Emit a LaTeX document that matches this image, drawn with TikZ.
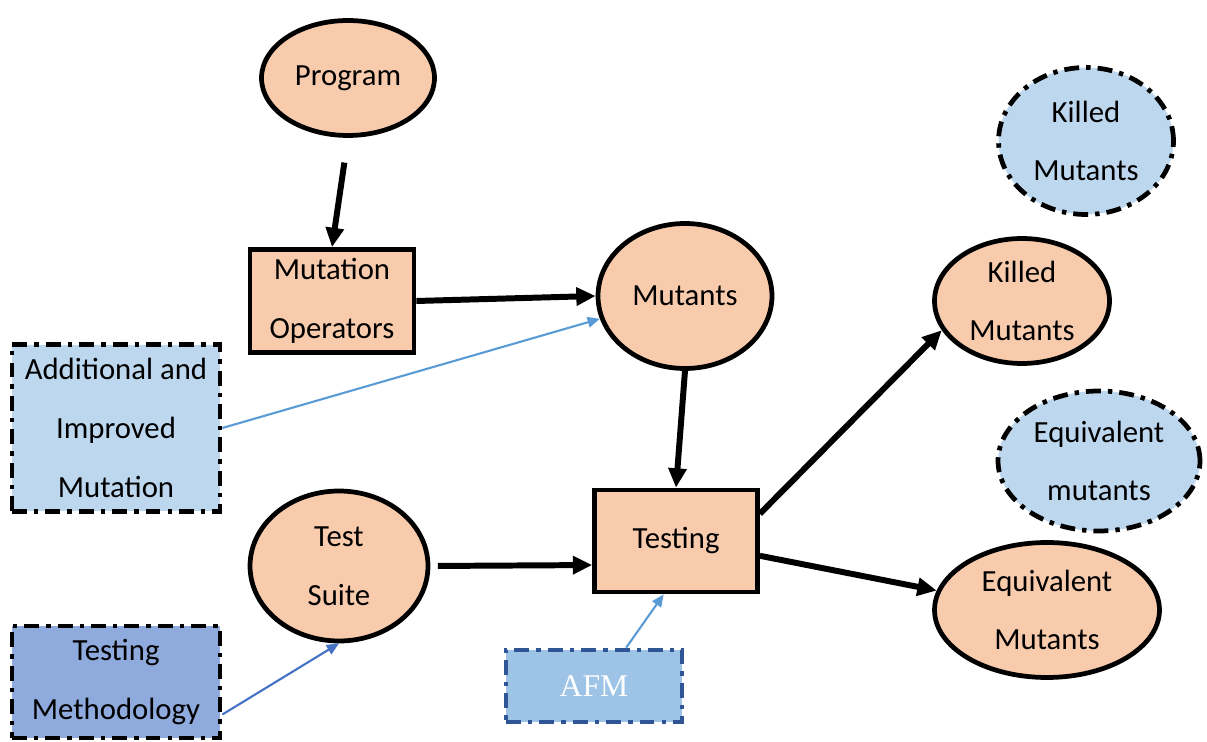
\documentclass[tikz,border=0pt]{standalone}
\usepackage{fontspec}
\setmainfont{Carlito}
\newfontfamily\afmfont{Liberation Serif}
\usepackage{xcolor}
\usepackage{tikz}
\usetikzlibrary{arrows.meta, shapes.geometric}
\definecolor{peach}{HTML}{F8CBAD}
\definecolor{paleblue}{HTML}{BDD7EE}
\definecolor{methblue}{HTML}{8FAADC}
\definecolor{afmfill}{HTML}{9DC3E6}
\definecolor{afmline}{HTML}{2F5597}
\definecolor{linkblue}{HTML}{5B9BD5}
\definecolor{darklink}{HTML}{4472C4}
\tikzset{
    dashdotline/.style={dash pattern=on 8.5pt off 4pt on 2.5pt off 4pt},
    stage/.style={ellipse, draw=black, line width=2.7pt, fill=peach, align=center, inner sep=0pt, font=\fontsize{17.5}{33.5}\selectfont},
    process/.style={rectangle, draw=black, line width=2.7pt, fill=peach, align=center, inner sep=0pt, font=\fontsize{17.5}{33.5}\selectfont},
    result/.style={ellipse, draw=black, line width=2.7pt, dashdotline, fill=paleblue, align=center, inner sep=0pt, font=\fontsize{17.5}{33.5}\selectfont},
    extra/.style={rectangle, draw=black, line width=2.7pt, dashdotline, fill=paleblue, align=center, inner sep=0pt, font=\fontsize{17.5}{33.5}\selectfont},
    arrow/.style={-{Triangle[length=11pt,width=10pt]}, line width=3.4pt},
    thinarrow/.style={-{Triangle[length=7pt,width=6pt]}, line width=1.2pt, draw=linkblue}
}
\begin{document}
\begin{tikzpicture}[x=0.02cm, y=-0.02cm]
        \useasboundingbox (0,0) rectangle (1207,742);
        % Main flow
        \node[stage, minimum width=3.46cm, minimum height=2.3cm] (Prog) at (348,78) {Program};
        \node[process, minimum width=3.28cm, minimum height=2.06cm] (MutOp) at (332,301) {Mutation\\Operators};
        \node[stage, minimum width=3.48cm, minimum height=2.9cm] (Mut) at (685,296) {Mutants};
        \node[process, minimum width=3.26cm, minimum height=2.04cm] (Test) at (676,541) {Testing};
        \node[stage, minimum width=3.56cm, minimum height=3cm] (Suite) at (339,566) {Test\\Suite};

        % Outcomes
        \node[stage, minimum width=3.5cm, minimum height=2.5cm] (Killed) at (1022,301) {Killed\\Mutants};
        \node[stage, minimum width=4.5cm, minimum height=2.7cm] (Equiv) at (1047,610) {Equivalent\\Mutants};
        \node[result, minimum width=3.5cm, minimum height=2.94cm] (KilledB) at (1086,141) {Killed\\Mutants};
        \node[result, minimum width=4.04cm, minimum height=2.8cm] (EquivB) at (1099,461) {Equivalent\\mutants};

        % Additions
        \node[extra, minimum width=4.16cm, minimum height=3.34cm] (AddMut) at (116,428) {Additional and\\Improved\\Mutation};
        \node[extra, fill=methblue, minimum width=4.16cm, minimum height=2.24cm] (Method) at (116,682) {Testing\\Methodology};
        \node[extra, fill=afmfill, draw=afmline, minimum width=3.52cm, minimum height=1.44cm, font=\afmfont\fontsize{18}{20}\selectfont, text=white] (AFM) at (594,686) {AFM};

        % Connections
        \draw[arrow, shorten <=0.5cm] (Prog.south) -- (MutOp.north);
        \draw[arrow] (MutOp.east) -- (Mut.west);
        \draw[arrow] (Mut.south) -- (Test.north);
        \draw[arrow, shorten <=0.15cm] (Suite.east) -- (Test.196);
        \draw[arrow] (Test.18) -- (Killed.200);
        \draw[arrow] (Test.-10) -- (Equiv.170);

        \draw[thinarrow] (AddMut.east) -- (Mut.195);
        \draw[thinarrow, draw=darklink] (Method.-17) -- (Suite.south);
        \draw[thinarrow] (AFM.50) -- (Test.257);
    \end{tikzpicture}
\end{document}
